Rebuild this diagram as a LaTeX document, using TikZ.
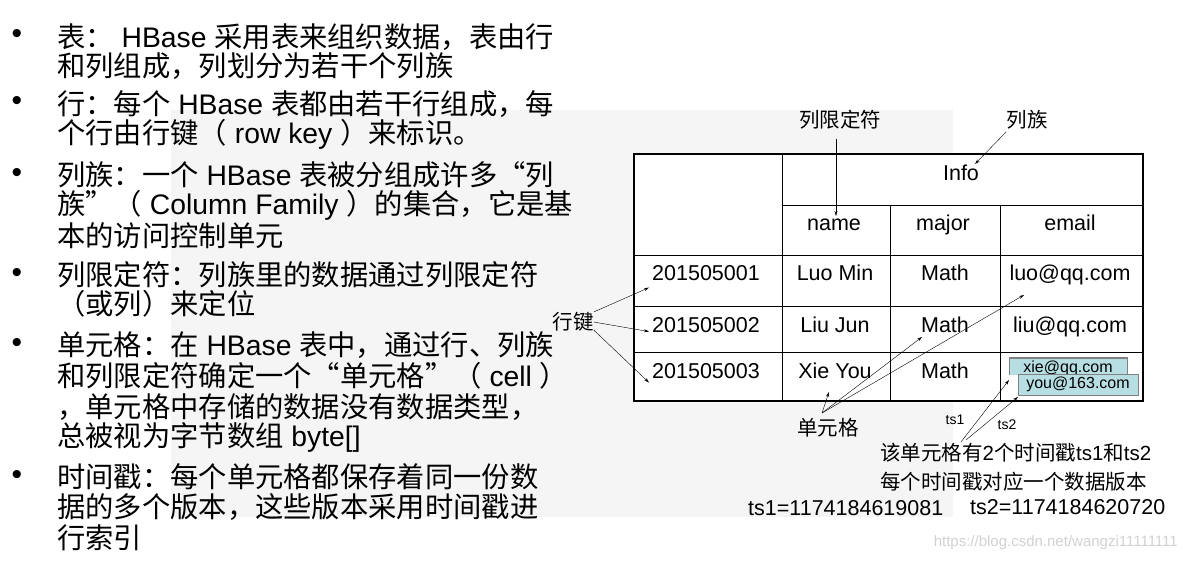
\documentclass[tikz,border=0pt]{standalone}
\usepackage{fontspec}
\setmainfont{Noto Sans CJK SC}
\newfontfamily\lat{Liberation Sans}
\newcommand{\La}[1]{{\lat #1}}
\usetikzlibrary{arrows.meta}
\definecolor{teal1}{HTML}{B7DEE2}
\begin{document}
\begin{tikzpicture}[x=1pt,y=-1pt,
  line/.style={anchor=west,inner sep=0pt,font=\fontsize{28.3}{28.3}\selectfont},
  bul/.style={anchor=center,inner sep=0pt,font=\lat\fontsize{30}{30}\selectfont},
  cell/.style={inner sep=0pt,anchor=base,font=\lat\fontsize{21.5}{21.5}\selectfont},
  lab/.style={inner sep=0pt,font=\fontsize{20.5}{20.5}\selectfont},
  arr/.style={-{Stealth[length=5pt,width=3pt]},thin}]
\useasboundingbox (0,0) rectangle (1183,561);
\fill[black!4] (171,110) rectangle (953,517);
% left text
\foreach \y/\n in {37/b1,104/b2,175/b3,275/b4,345/b5,477/b6} \node[bul] (\n) at (17,\y) {•};
\node[line] (l1) at (57,37) {表：\La{ HBase }采用表来组织数据，表由行};
\node[line] (l2) at (57,66) {和列组成，列划分为若干个列族};
\node[line] (l3) at (57,104) {行：每个\La{ HBase }表都由若干行组成，每};
\node[line] (l4) at (57,134) {个行由行键（\La{ row key }）来标识。};
\node[line] (l5) at (57,175) {列族：一个\La{ HBase }表被分组成许多“列};
\node[line] (l6) at (57,205) {族”（\La{ Column Family }）的集合，它是基};
\node[line] (l7) at (57,236) {本的访问控制单元};
\node[line] (l8) at (57,275) {列限定符：列族里的数据通过列限定符};
\node[line] (l9) at (57,304) {（或列）来定位};
\node[line] (l10) at (57,345) {单元格：在\La{ HBase }表中，通过行、列族};
\node[line] (l11) at (57,376) {和列限定符确定一个“单元格”（\La{ cell }）};
\node[line] (l12) at (57,407) {，单元格中存储的数据没有数据类型，};
\node[line] (l13) at (57,437) {总被视为字节数组\La{ byte[]}};
\node[line] (l14) at (57,477) {时间戳：每个单元格都保存着同一份数};
\node[line] (l15) at (57,507) {据的多个版本，这些版本采用时间戳进};
\node[line] (l16) at (57,538) {行索引};
% table
\fill[white] (634,154) rectangle (1143,401);
\draw[thin] (782,205) -- (1143,205);
\draw[thin] (634,255) -- (1143,255);
\draw[thin] (634,306) -- (1143,306);
\draw[thin] (634,352) -- (1143,352);
\draw[thin] (782,154) -- (782,401);
\draw[thin] (890,205) -- (890,401);
\draw[thin] (1000,205) -- (1000,401);
\draw[line width=1.5pt] (634,154) rectangle (1143,401);
\node[cell] (info) at (961,181) {Info};
\node[cell] (name) at (834,231) {name};
\node[cell] (major) at (943,231) {major};
\node[cell] (email) at (1070,231) {email};
\node[cell] (r1) at (706,281) {201505001};
\node[cell] (r2) at (706,332) {201505002};
\node[cell] (r3) at (706,378) {201505003};
\node[cell] (n1) at (835,281) {Luo Min};
\node[cell] (n2) at (835,332) {Liu Jun};
\node[cell] (n3) at (835,378) {Xie You};
\node[cell] (m1) at (945,281) {Math};
\node[cell] (m2) at (945,332) {Math};
\node[cell] (m3) at (945,378) {Math};
\node[cell] (e1) at (1070,281) {luo@qq.com};
\node[cell] (e2) at (1070,332) {liu@qq.com};
% email versions
\begin{scope}
\clip (1009,357) rectangle (1127,374);
\node[draw=black!50,fill=teal1,minimum width=118pt,minimum height=20pt,inner sep=0pt,font=\lat\fontsize{16}{16}\selectfont] (x1) at (1068,368) {xie@qq.com};
\end{scope}
\draw[black!50] (1009,374) -- (1009,357) -- (1127,357) -- (1127,374);
\node[draw=black!50,fill=teal1,minimum width=120pt,minimum height=21pt,inner sep=0pt,font=\lat\fontsize{16}{16}\selectfont] (x2) at (1078,384.5) {you@163.com};
% labels
\node[lab] (lq) at (840,120) {列限定符};
\node[lab] (lf) at (1027,120) {列族};
\node[lab] (rk) at (573,322) {行键};
\node[lab] (cg) at (828,428) {单元格};
\node[inner sep=0pt,font=\lat\fontsize{14}{14}\selectfont] (ts1) at (955,420) {ts1};
\node[inner sep=0pt,font=\lat\fontsize{14}{14}\selectfont] (ts2) at (1007,425) {ts2};
\node[lab,anchor=west] (t1) at (880,453) {该单元格有\La{2}个时间戳\La{ts1}和\La{ts2}};
\node[lab,anchor=west] (t2) at (880,482) {每个时间戳对应一个数据版本};
\node[cell,anchor=base west] (v1) at (748,515) {ts1=1174184619081};
\node[cell,anchor=base west] (v2) at (970,514) {ts2=1174184620720};
\node[anchor=east,inner sep=0pt,text=black!18,font=\lat\fontsize{15}{15}\selectfont] (wm) at (1178,543) {https://blog.csdn.net/wangzi11111111};
% arrows
\coordinate (a1) at (836,216);
\draw[arr] (836,139) -- (a1);
\coordinate (a2) at (975,164);
\draw[arr] (lf.south west) ++(0,2) -- (a2);
\draw[arr] (rk.east) ++(0,-10) -- ([xshift=-3pt,yshift=-14pt]r1.west);
\draw[arr] (rk.east) -- ([xshift=-3pt,yshift=-7pt]r2.west);
\draw[arr] (rk.east) ++(0,8) -- ([xshift=-3pt,yshift=-12pt]r3.west);
\coordinate (c0) at (822,413);
\draw[arr] (c0) -- (829,392);
\draw[arr] (c0) -- (922,337);
\draw[arr] (c0) -- (1024,295);
\draw[arr] (961,442) -- (1009,380);
\draw[arr] (966,440) -- (1018,397);
\end{tikzpicture}
\end{document}
